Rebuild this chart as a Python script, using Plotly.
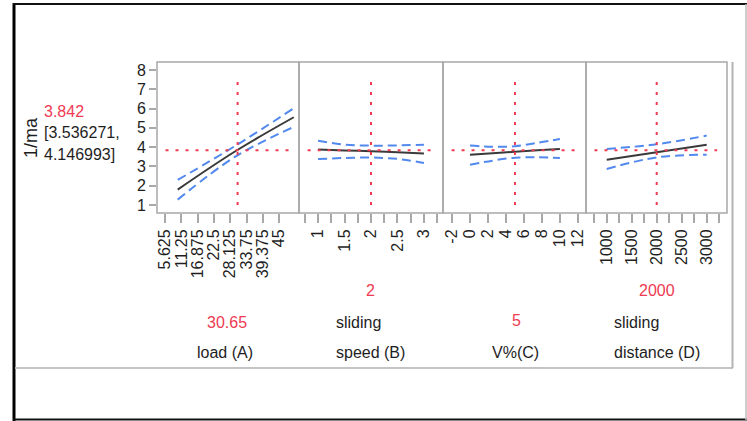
import plotly.graph_objects as go

W, H = 747, 421

# ---------------- data ----------------
y_ticks = [1, 2, 3, 4, 5, 6, 7, 8]
pred_value = 3.842
pred_ci_text = ["[3.536271,", "4.146993]"]

load_ticks = [5.625, 11.25, 16.875, 22.5, 28.125, 33.75, 39.375, 45]
load_labels = ["5.625", "11.25", "16.875", "22.5", "28.125", "33.75", "39.375", "45"]
load_x = [10, 30, 50]
load_mean = [1.80, 3.80, 5.55]
load_upper = [2.30, 4.08, 6.02]
load_lower = [1.28, 3.52, 5.05]
load_current = 30.65

speed_ticks = [1, 1.5, 2, 2.5, 3]
speed_x = [1, 1.5, 2, 2.5, 3]
speed_mean = [3.88, 3.83, 3.79, 3.73, 3.67]
speed_upper = [4.33, 4.13, 4.08, 4.09, 4.13]
speed_lower = [3.38, 3.44, 3.46, 3.39, 3.18]
speed_current = 2

v_ticks = [-2, 0, 2, 4, 6, 8, 10, 12]
v_x = [0, 2.5, 5, 7.5, 10]
v_mean = [3.60, 3.68, 3.76, 3.84, 3.91]
v_upper = [4.08, 4.02, 4.05, 4.22, 4.42]
v_lower = [3.09, 3.30, 3.45, 3.47, 3.44]
v_current = 5

dist_ticks = [1000, 1500, 2000, 2500, 3000]
dist_x = [1000, 2000, 3000]
dist_mean = [3.35, 3.73, 4.13]
dist_upper = [3.91, 4.15, 4.60]
dist_lower = [2.87, 3.47, 3.61]
dist_current = 2000

factor_names = [["load (A)"], ["sliding", "speed (B)"], ["V%(C)"], ["sliding", "distance (D)"]]
current_labels = ["30.65", "2", "5", "2000"]

# ---------------- styling ----------------
RED = "#ee3a52"
BLUE = "#5289ee"
DARK = "#1e1e1e"
GRID = "#a8a8a8"
FONT = "Liberation Sans"
FS = 16


def fx(px):
    return px / W


def fy(py):
    return 1 - py / H


panels = [
    dict(x=load_x, m=load_mean, u=load_upper, l=load_lower, cur=load_current,
         dom=(157, 299), rng=[2.87, 51.8]),
    dict(x=speed_x, m=speed_mean, u=speed_upper, l=speed_lower, cur=speed_current,
         dom=(299, 443), rng=[0.64, 3.36]),
    dict(x=v_x, m=v_mean, u=v_upper, l=v_lower, cur=v_current,
         dom=(443, 586), rng=[-3.0, 12.9]),
    dict(x=dist_x, m=dist_mean, u=dist_upper, l=dist_lower, cur=dist_current,
         dom=(586, 727), rng=[586, 3406]),
]
PT, PB = 62, 213

fig = go.Figure()
shapes = []
y_dom = [fy(PB), fy(PT)]
y_rng = [0.585, 8.415]

for i, p in enumerate(panels):
    k = "" if i == 0 else str(i + 1)
    xa, ya = "x" + k, "y" + k
    for arr in (p["u"], p["l"]):
        fig.add_trace(go.Scatter(x=p["x"], y=arr, xaxis=xa, yaxis=ya, mode="lines",
                                 line=dict(color=BLUE, width=2, dash="9px,5px", shape="spline"),
                                 showlegend=False, hoverinfo="skip"))
    fig.add_trace(go.Scatter(x=p["x"], y=p["m"], xaxis=xa, yaxis=ya, mode="lines",
                             line=dict(color="#3a3a3a", width=2, shape="spline"),
                             showlegend=False, hoverinfo="skip"))
    # crosshairs
    shapes.append(dict(type="line", xref=xa, yref=ya, x0=p["cur"], x1=p["cur"], y0=1.0, y1=7.5,
                       line=dict(color=RED, width=2, dash="3px,7px"), layer="above"))
    shapes.append(dict(type="line", xref=xa + " domain", yref=ya, x0=0.06, x1=0.93,
                       y0=pred_value, y1=pred_value,
                       line=dict(color=RED, width=2, dash="3px,7px"), layer="above"))
    # panel border
    shapes.append(dict(type="rect", xref="paper", yref="paper",
                       x0=fx(p["dom"][0]), x1=fx(p["dom"][1]), y0=fy(PB), y1=fy(PT),
                       line=dict(color=GRID, width=1.5), layer="above"))

axis_common = dict(showline=False, showgrid=False, zeroline=False, fixedrange=True)

minor_tick = dict(ticks="outside", ticklen=9, tickcolor=GRID, tickwidth=1.5, tick0=0)
xcfg = [
    dict(tickvals=load_ticks, ticktext=load_labels),
    dict(tickvals=speed_ticks, ticktext=[str(v) for v in speed_ticks],
         minor=dict(minor_tick, dtick=0.25)),
    dict(tickvals=v_ticks, ticktext=[str(v) for v in v_ticks]),
    dict(tickvals=dist_ticks, ticktext=[str(v) for v in dist_ticks],
         minor=dict(minor_tick, dtick=250)),
]

layout = dict(width=W, height=H, margin=dict(l=0, r=0, t=0, b=0, autoexpand=False),
              paper_bgcolor="white", plot_bgcolor="white",
              font=dict(family=FONT, size=FS, color=DARK), showlegend=False)

for i, p in enumerate(panels):
    k = "" if i == 0 else str(i + 1)
    xa = dict(axis_common, domain=[fx(p["dom"][0]), fx(p["dom"][1])], range=p["rng"],
              anchor="y" + k, ticks="outside", ticklen=9, tickcolor=GRID, tickwidth=1.5,
              tickangle=-90, tickfont=dict(family=FONT, size=FS, color=DARK), **xcfg[i])
    ya = dict(axis_common, domain=y_dom, range=y_rng, anchor="x" + k)
    if i == 0:
        ya.update(tickvals=y_ticks, ticks="outside", ticklen=7, tickcolor=GRID, tickwidth=1.5,
                  tickfont=dict(family=FONT, size=FS, color=DARK))
    else:
        ya.update(showticklabels=False, ticks="")
    layout["xaxis" + k] = xa
    layout["yaxis" + k] = ya


def pline(x0, y0, x1, y1, color, width):
    return dict(type="line", xref="paper", yref="paper", x0=fx(x0), y0=fy(y0), x1=fx(x1), y1=fy(y1),
                line=dict(color=color, width=width))


shapes += [
    pline(14, 3, 14, 421, "#000000", 3),
    pline(13, 4, 747, 4, "#111111", 2),
    pline(13, 419.5, 747, 419.5, "#111111", 2),
    pline(746, 4, 746, 420, "#bdbdbd", 1.5),
    pline(15, 368, 733, 368, "#c4c4c4", 2),
    pline(732.5, 62, 732.5, 368, "#b4b4b4", 2),
]
layout["shapes"] = shapes

ann = []


def text(t, x, y, color=DARK, xanchor="center", angle=0, size=FS):
    ann.append(dict(text=t, xref="paper", yref="paper", x=fx(x), y=fy(y), xanchor=xanchor,
                    yanchor="middle", showarrow=False, textangle=angle,
                    font=dict(family=FONT, size=size, color=color)))


text("1/ma", 31, 138, angle=-90, size=18)
text(f"{pred_value}", 42, 111, color=RED, xanchor="left")
text(pred_ci_text[0], 42, 133, xanchor="left")
text(pred_ci_text[1], 42, 154, xanchor="left")

text(current_labels[0], 227, 322, color=RED)
text(factor_names[0][0], 225, 352)
text(current_labels[1], 370, 290, color=RED)
text(factor_names[1][0], 334, 322, xanchor="left")
text(factor_names[1][1], 334, 352, xanchor="left")
text(current_labels[2], 516, 320, color=RED)
text(factor_names[2][0], 515, 352)
text(current_labels[3], 657, 290, color=RED)
text(factor_names[3][0], 612, 322, xanchor="left")
text(factor_names[3][1], 612, 352, xanchor="left")
layout["annotations"] = ann

fig.update_layout(**layout)
fig.write_html("out.html", config={"displayModeBar": False},
               post_script="document.body.style.margin='0px';")
